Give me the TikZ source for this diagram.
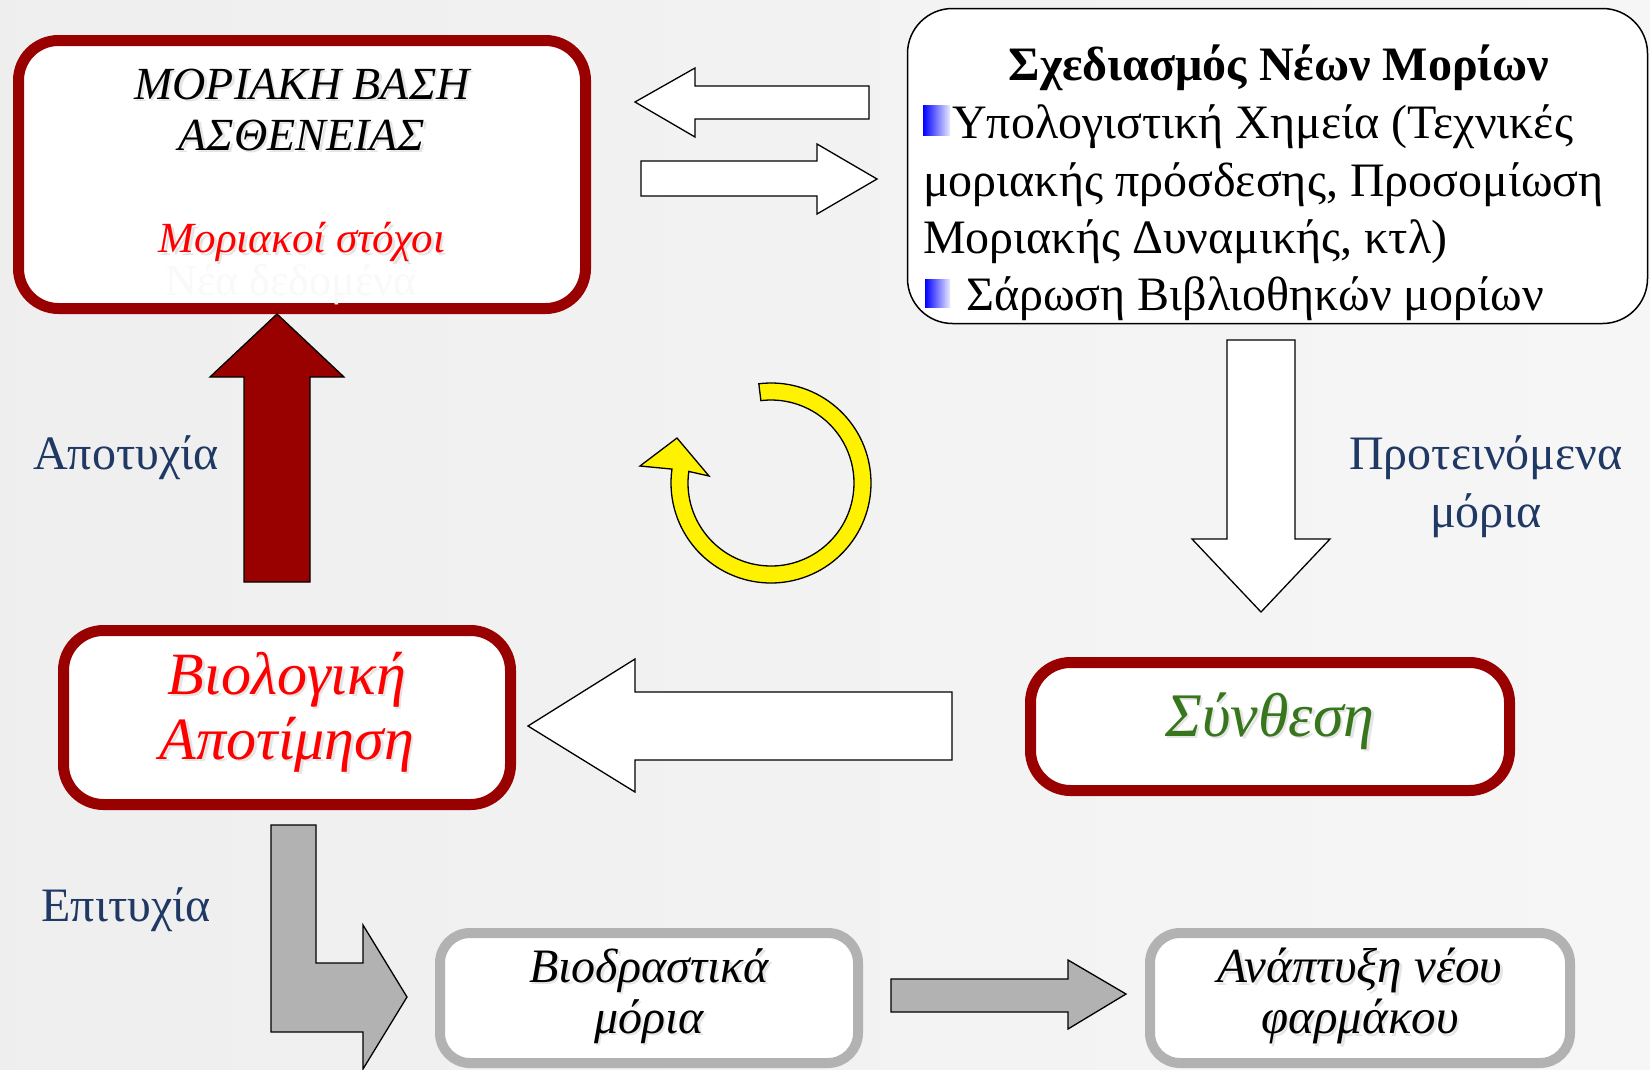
\documentclass[tikz,border=0pt]{standalone}
\usepackage{fontspec}
\setmainfont{Liberation Serif}
\definecolor{boxred}{RGB}{153,0,0}
\definecolor{navy}{RGB}{31,56,100}
\definecolor{synth}{RGB}{56,118,29}
\definecolor{boxgray}{RGB}{178,178,178}
\begin{document}
\begin{tikzpicture}[x=1pt,y=-1pt,
  redbox/.style={draw=boxred, line width=11pt, fill=white, rounded corners=40pt, inner sep=0pt},
  graybox/.style={draw=boxgray, line width=10pt, fill=white, rounded corners=30pt, inner sep=0pt},
  blkarrow/.style={draw=black, line width=1.3pt, line join=miter},
  lbl/.style={text=navy, font=\fontsize{48}{58}\selectfont, align=center, inner sep=0pt},
  itx/.style 2 args={font=\fontsize{#1}{#2}\selectfont\itshape, align=center, inner sep=0pt},
  shad/.style={text=black, opacity=0.1},
  dsg/.style={font=\fontsize{48}{58}\selectfont, inner sep=0pt, anchor=base west},
  bullet/.style={left color=blue, right color=blue!8}
]
\useasboundingbox (0,0) rectangle (1650,1069);
\shade[left color=gray!13, middle color=white, right color=gray!7] (0,0) rectangle (1650,1069);

% ---- top-left box
\node[redbox, minimum width=567pt, minimum height=268pt] (mol) at (302,174.5) {};
\node[font=\fontsize{44}{44}\selectfont, text=gray!5, inner sep=0pt] (mol4) at (291,285) {Νέα δεδομένα};
\node[itx={46}{46}, shad] (mol1s) at (304.5,86.5) {ΜΟΡΙΑΚΗ ΒΑΣΗ};
\node[itx={46}{46}, shad] (mol2s) at (304.5,137.5) {ΑΣΘΕΝΕΙΑΣ};
\node[itx={43}{43}, shad] (mol3s) at (304.5,244.5) {Μοριακοί στόχοι};
\node[itx={46}{46}] (mol1) at (302,84) {ΜΟΡΙΑΚΗ ΒΑΣΗ};
\node[itx={46}{46}] (mol2) at (302,135) {ΑΣΘΕΝΕΙΑΣ};
\node[itx={43}{43}, text=red] (mol3) at (302,242) {Μοριακοί στόχοι};

% ---- top-right box
\node[draw=black, line width=1.5pt, fill=white, rounded corners=45pt, minimum width=740pt, minimum height=315pt, inner sep=0pt] (des) at (1277.5,166) {};
\node[font=\fontsize{48}{58}\selectfont\bfseries, inner sep=0pt, anchor=base] (des1) at (1279,80) {Σχεδιασμός Νέων Μορίων};
\node[dsg] (des2) at (952,138) {Υπολογιστική Χημεία (Τεχνικές};
\node[dsg] (des3) at (923,196) {μοριακής πρόσδεσης, Προσομίωση};
\node[dsg] (des4) at (923,253) {Μοριακής Δυναμικής, κτλ)};
\node[dsg] (des5) at (966,310) {Σάρωση Βιβλιοθηκών μορίων};
\shade[bullet] (923,105) rectangle (950,135);
\shade[bullet] (925,279) rectangle (950,307);

% ---- arrows between top boxes
\draw[blkarrow, fill=white] (635,102) -- (695,68) -- (695,86) -- (869,86) -- (869,119) -- (695,119) -- (695,137) -- cycle;
\draw[blkarrow, fill=white] (877,179) -- (817,144) -- (817,161) -- (641,161) -- (641,196) -- (817,196) -- (817,214) -- cycle;

% ---- red up arrow
\draw[blkarrow, fill=boxred] (277,314) -- (344,377) -- (310,377) -- (310,582) -- (244,582) -- (244,377) -- (210,377) -- cycle;
\node[lbl] (fail) at (126,458) {Αποτυχία};

% ---- yellow circular arrow
\begin{scope}[shift={(771,483)}, yscale=-1]
\draw[line width=1.3pt, fill=yellow, line join=miter]
  (97:100) arc[start angle=97, end angle=-188, radius=100]
  -- (-131,17) -- (-94,45) -- (-62,7)
  -- (-188:83) arc[start angle=-188, end angle=97, radius=83] -- cycle;
\end{scope}

% ---- down arrow
\draw[blkarrow, fill=white] (1261,612) -- (1330,539) -- (1295,539) -- (1295,340) -- (1227,340) -- (1227,539) -- (1192,539) -- cycle;
\node[lbl] (prop) at (1486,487) {Προτεινόμενα\\μόρια};

% ---- middle row
\node[redbox, minimum width=447pt, minimum height=174pt] (bio) at (287,717.5) {};
\node[itx={60}{65}, shad] (biots) at (289.5,714.5) {Βιολογική\\Αποτίμηση};
\node[itx={60}{65}, text=red] (biot) at (287,712) {Βιολογική\\Αποτίμηση};
\node[redbox, minimum width=479pt, minimum height=128pt] (syn) at (1270,726.5) {};
\node[itx={62}{62}, shad] (synts) at (1272.5,723.5) {Σύνθεση};
\node[itx={62}{62}, text=synth] (synt) at (1270,721) {Σύνθεση};
\draw[blkarrow, fill=white] (528,726) -- (635,659) -- (635,692) -- (952,692) -- (952,760) -- (635,760) -- (635,792) -- cycle;

% ---- bottom row
\node[lbl] (succ) at (126,910) {Επιτυχία};
\draw[blkarrow, fill=boxgray] (271,825) -- (316,825) -- (316,963) -- (363,963) -- (363,925) -- (407,997) -- (363,1069) -- (363,1032) -- (271,1032) -- cycle;
\node[graybox, minimum width=418pt, minimum height=130pt] (bdr) at (649,998) {};
\node[itx={48}{51}, shad] (bdrts) at (651.5,998.5) {Βιοδραστικά\\μόρια};
\node[itx={48}{51}] (bdrt) at (649,996) {Βιοδραστικά\\μόρια};
\draw[blkarrow, fill=boxgray] (1126,994) -- (1068,960) -- (1068,979) -- (891,979) -- (891,1012) -- (1068,1012) -- (1068,1029) -- cycle;
\node[graybox, minimum width=420pt, minimum height=130pt] (drug) at (1360,998) {};
\node[itx={49}{51}, shad] (drugts) at (1362.5,998.5) {Ανάπτυξη νέου\\φαρμάκου};
\node[itx={49}{51}] (drugt) at (1360,996) {Ανάπτυξη νέου\\φαρμάκου};
\end{tikzpicture}
\end{document}
